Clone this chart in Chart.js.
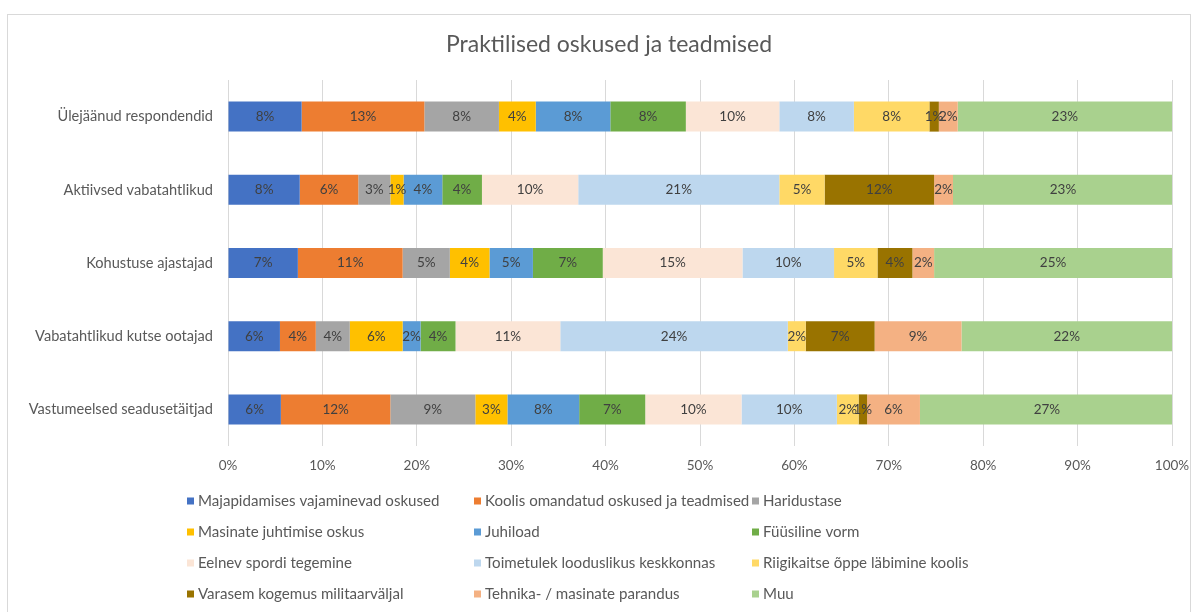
<!DOCTYPE html>
<html>
<head>
<meta charset="utf-8">
<script src="https://cdn.jsdelivr.net/npm/chart.js@4/dist/chart.umd.min.js"></script>
<style>
  html, body { margin: 0; padding: 0; background: #ffffff; }
  #frame { position: absolute; left: 7px; top: 14px; width: 1184px; height: 620px; border: 1px solid #d9d9d9; box-sizing: border-box; }
  #wrap { position: absolute; left: 0; top: 0; width: 1198px; height: 612px; }
</style>
</head>
<body>
<div id="frame"></div>
<div id="wrap"><canvas id="c" width="1198" height="612"></canvas></div>
<script>
const categories = [
  "Ülejäänud respondendid",
  "Aktiivsed vabatahtlikud",
  "Kohustuse ajastajad",
  "Vabatahtlikud kutse ootajad",
  "Vastumeelsed seadusetäitjad"
];
const seriesNames = [
  "Majapidamises vajaminevad oskused",
  "Koolis omandatud oskused ja teadmised",
  "Haridustase",
  "Masinate juhtimise oskus",
  "Juhiload",
  "Füüsiline vorm",
  "Eelnev spordi tegemine",
  "Toimetulek looduslikus keskkonnas",
  "Riigikaitse õppe läbimine koolis",
  "Varasem kogemus militaarväljal",
  "Tehnika- / masinate parandus",
  "Muu"
];
const chartTitle = "Praktilised oskused ja teadmised";
// values per series, in category order (percent)
const majapidamises = [7.8, 7.6, 7.4, 5.5, 5.6];
const koolis        = [13.0, 6.2, 11.1, 3.8, 11.6];
const haridustase   = [7.9, 3.4, 5.0, 3.6, 9.0];
const masinate      = [3.9, 1.4, 4.2, 5.6, 3.4];
const juhiload      = [7.9, 4.1, 4.6, 1.9, 7.6];
const fyysiline     = [8.0, 4.2, 7.4, 3.7, 7.0];
const spordi        = [9.9, 10.2, 14.8, 11.1, 10.2];
const toimetulek    = [7.9, 21.3, 9.7, 24.1, 10.1];
const riigikaitse   = [8.0, 4.8, 4.6, 1.9, 2.3];
const varasem       = [1.0, 11.6, 3.7, 7.3, 0.9];
const tehnika       = [2.0, 2.0, 2.3, 9.2, 5.6];
const muu           = [22.7, 23.3, 25.2, 22.3, 26.9];
const xTickLabels = ["0%","10%","20%","30%","40%","50%","60%","70%","80%","90%","100%"];

const seriesValues = [majapidamises, koolis, haridustase, masinate, juhiload, fyysiline,
                      spordi, toimetulek, riigikaitse, varasem, tehnika, muu];
const colors = ["#4472C4","#ED7D31","#A5A5A5","#FFC000","#5B9BD5","#70AD47",
                "#FBE5D6","#BDD7EE","#FFD966","#997300","#F4B183","#A9D18E"];

const FONT = "Lato, 'Open Sans', sans-serif";

const datasets = seriesNames.map((name, i) => ({
  label: name,
  data: seriesValues[i],
  backgroundColor: colors[i],
  borderWidth: 0,
  categoryPercentage: 1.0,
  barPercentage: 0.41
}));

const valueLabels = {
  id: 'valueLabels',
  afterDatasetsDraw(chart) {
    const ctx = chart.ctx;
    ctx.save();
    ctx.font = "13.5px " + FONT;
    ctx.fillStyle = "#404040";
    ctx.textAlign = "center";
    ctx.textBaseline = "middle";
    chart.data.datasets.forEach((ds, di) => {
      const meta = chart.getDatasetMeta(di);
      meta.data.forEach((bar, j) => {
        const v = ds.data[j];
        const p = bar.getProps(['x','y','base'], true);
        const cx = (p.x + p.base) / 2;
        ctx.fillText(Math.round(v) + "%", cx, p.y);
      });
    });
    ctx.restore();
  }
};

const titleAndLegend = {
  id: 'titleAndLegend',
  afterDraw(chart) {
    const ctx = chart.ctx;
    ctx.save();
    ctx.font = "23px " + FONT;
    ctx.fillStyle = "#595959";
    ctx.textAlign = "center";
    ctx.textBaseline = "middle";
    ctx.fillText(chartTitle, 609, 45);
    const colX = [187, 474, 752];
    const rowY = [501, 532, 563, 594];
    ctx.font = "15.1px " + FONT;
    ctx.textAlign = "left";
    chart.data.datasets.forEach((ds, i) => {
      const col = i % 3, row = Math.floor(i / 3);
      const x = colX[col], y = rowY[row];
      ctx.fillStyle = ds.backgroundColor;
      ctx.fillRect(x, y - 3.5, 7, 7);
      ctx.fillStyle = "#595959";
      ctx.fillText(ds.label, x + 11, y);
    });
    ctx.restore();
  }
};

new Chart(document.getElementById('c'), {
  type: 'bar',
  data: { labels: categories, datasets },
  options: {
    indexAxis: 'y',
    responsive: false,
    animation: false,
    layout: { padding: { left: 0, right: 0, top: 80, bottom: 0 } },
    plugins: {
      legend: { display: false },
      tooltip: { enabled: false },
      title: { display: false }
    },
    scales: {
      x: {
        stacked: true,
        min: 0, max: 100,
        afterFit(scale) {
          scale.height = 166;
          scale.paddingRight = 26;
          scale.paddingLeft = 0;
        },
        afterBuildTicks(scale) {
          scale.ticks = xTickLabels.map((t, i) => ({ value: i * 10 }));
        },
        ticks: {
          callback: (v, i) => xTickLabels[i],
          color: "#595959",
          font: { family: FONT, size: 13.5 },
          padding: 12,
          maxRotation: 0
        },
        grid: { color: "#D9D9D9", drawTicks: false, lineWidth: 1 },
        border: { display: false }
      },
      y: {
        stacked: true,
        afterFit(scale) { scale.width = 228; },
        ticks: {
          color: "#595959",
          font: { family: FONT, size: 14.6 },
          padding: 15
        },
        grid: { display: false, drawTicks: false },
        border: { display: false }
      }
    }
  },
  plugins: [valueLabels, titleAndLegend]
});
</script>
</body>
</html>
